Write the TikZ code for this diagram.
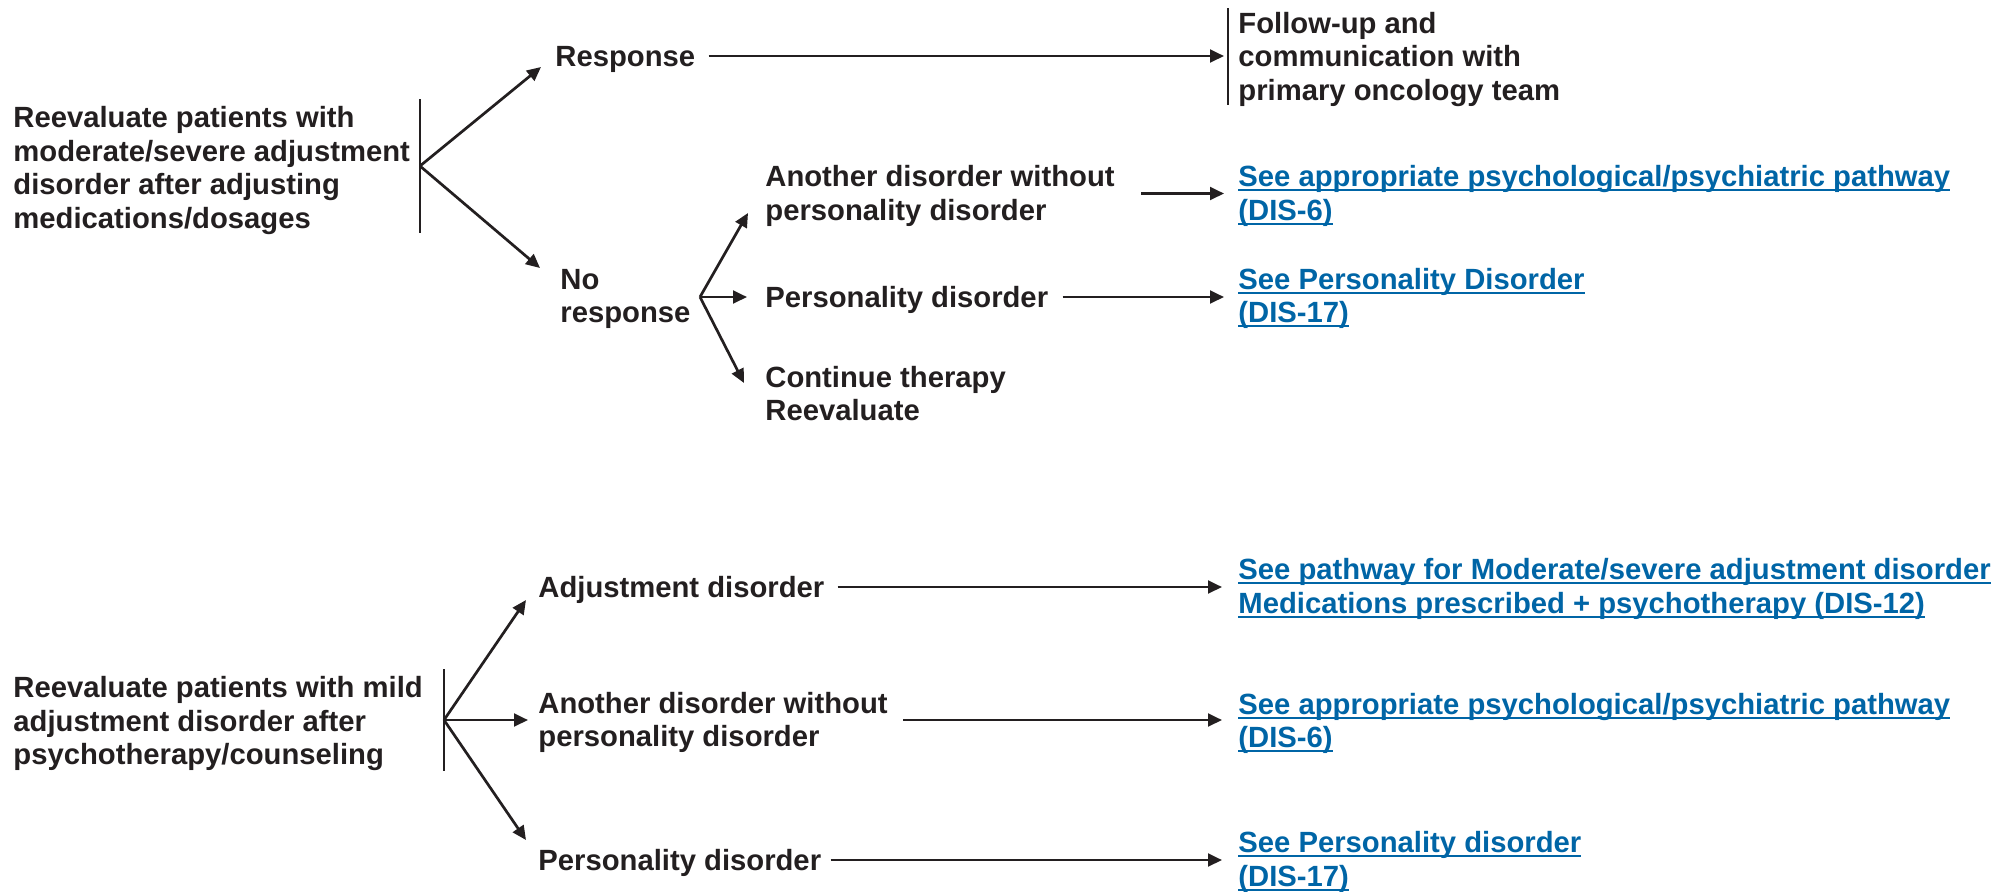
\documentclass[tikz,border=0pt]{standalone}
\usepackage{fontspec}
\setmainfont{Liberation Sans}
\usetikzlibrary{arrows.meta,calc}
\definecolor{ink}{HTML}{231F20}
\definecolor{linkblue}{RGB}{0,101,166}
% strut that centres each line on its capitals
\newcommand\sst{\rule[-3.375pt]{0pt}{16.75pt}}
% underlined link line
\newsavebox\lkbox
\newcommand\lk[1]{\sbox\lkbox{#1}\sst\rlap{\rule[-2.2pt]{\wd\lkbox}{1pt}}\usebox\lkbox}

\begin{document}
\begin{tikzpicture}[x=0.5pt,y=-0.5pt,
  txt/.style={anchor=west,align=left,inner sep=0pt,text=ink,
              font=\fontsize{14.62pt}{16.75pt}\selectfont\bfseries},
  lnk/.style={txt,text=linkblue},
  con/.style={draw=ink,line width=1.35pt},
  arr/.style={con,-{Triangle[length=7pt,width=6.4pt]}},
  bar/.style={draw=ink,line width=1pt}]
\useasboundingbox (0,0) rectangle (2010,891);

% ---------- moderate/severe adjustment disorder ----------
\node[txt] (q1) at (13,168) {\sst Reevaluate patients with\\\sst moderate/severe adjustment\\\sst disorder after adjusting\\\sst medications/dosages};
\coordinate (b1) at (420,166);
\draw[bar] ($(b1)+(0,-67)$) -- ($(b1)+(0,67)$);

\node[txt] (resp) at (555,56) {\sst Response};
\node[txt] (nr) at (560,296) {\sst No\\\sst response};
\draw[arr] (b1) -- ($(resp.west)+(-14,11)$);
\draw[arr] (b1) -- ($(nr.west)+(-20,-28)$);

\node[txt] (fol) at (1238,56.5) {\sst Follow-up and\\\sst communication with\\\sst primary oncology team};
\draw[bar] ($(fol.west)+(-10,-48.5)$) -- ($(fol.west)+(-10,48.5)$);
\draw[arr,shorten <=6.5pt,shorten >=7pt] (resp.east) -- (resp.east -| fol.west);

\coordinate (b2) at (700,297);
\node[txt] (ano1) at (765,193.5) {\sst Another disorder without\\\sst personality disorder};
\node[txt] (per1) at (765,297) {\sst Personality disorder};
\node[txt] (cont) at (765,394) {\sst Continue therapy\\\sst Reevaluate};
\draw[arr] (b2) -- ($(ano1.west)+(-17,19.5)$);
\draw[arr] (b2) -- ($(per1.west)+(-18,0)$);
\draw[arr] (b2) -- ($(cont.west)+(-21,-11)$);

\node[lnk] (see1) at (1238,193.5) {\lk{See appropriate psychological/psychiatric pathway}\\\lk{(DIS-6)}};
\node[lnk] (see2) at (1238,296) {\lk{See Personality Disorder}\\\lk{(DIS-17)}};
\draw[arr,shorten <=13pt,shorten >=7pt] (ano1.east) -- (ano1.east -| see1.west);
\draw[arr,shorten <=7pt,shorten >=7pt] (per1.east) -- (per1.east -| see2.west);

% ---------- mild adjustment disorder ----------
\node[txt] (q2) at (13,721) {\sst Reevaluate patients with mild\\\sst adjustment disorder after\\\sst psychotherapy/counseling};
\coordinate (b3) at (444,720);
\draw[bar] ($(b3)+(0,-51)$) -- ($(b3)+(0,51)$);

\node[txt] (adj) at (538,587) {\sst Adjustment disorder};
\node[txt] (ano2) at (538,720) {\sst Another disorder without\\\sst personality disorder};
\node[txt] (per2) at (538,860) {\sst Personality disorder};
\draw[arr] (b3) -- ($(adj.west)+(-12,13)$);
\draw[arr] (b3) -- ($(ano2.west)+(-10,0)$);
\draw[arr] (b3) -- ($(per2.west)+(-12,-20)$);

\node[lnk] (see3) at (1238,586.5) {\lk{See pathway for Moderate/severe adjustment disorder}\\\lk{Medications prescribed + psychotherapy (DIS-12)}};
\node[lnk] (see4) at (1238,721) {\lk{See appropriate psychological/psychiatric pathway}\\\lk{(DIS-6)}};
\node[lnk] (see5) at (1238,859.5) {\lk{See Personality disorder}\\\lk{(DIS-17)}};
\draw[arr,shorten <=6.5pt,shorten >=8pt] (adj.east) -- (adj.east -| see3.west);
\draw[arr,shorten <=7.5pt,shorten >=8pt] (ano2.east) -- (ano2.east -| see4.west);
\draw[arr,shorten <=4.5pt,shorten >=8pt] (per2.east) -- (per2.east -| see5.west);
\end{tikzpicture}
\end{document}
